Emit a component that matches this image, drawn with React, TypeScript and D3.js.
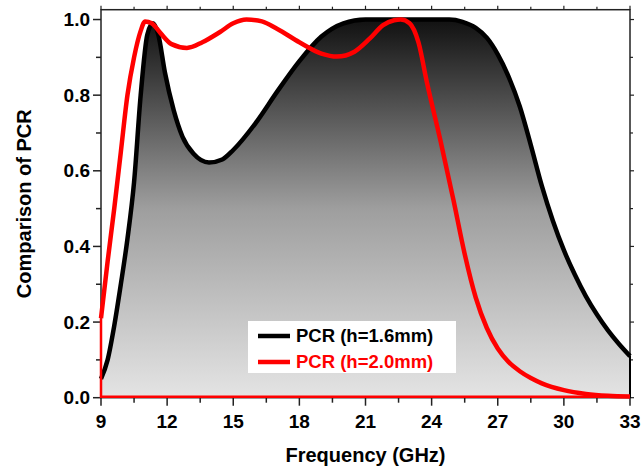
import React from "react";
import * as d3 from "d3";

const freq16 = [9, 9.3, 9.6, 9.9, 10.2, 10.5, 10.8, 11.1, 11.35, 11.6, 11.9, 12.3, 12.7, 13.2, 13.9, 14.5, 15, 16, 17, 18, 19, 20, 21, 22, 23, 24, 24.8, 25.4, 26, 26.5, 27, 27.5, 28, 28.5, 29, 29.5, 30, 30.5, 31, 31.5, 32, 32.5, 33];
const pcr16 = [0.05, 0.1, 0.19, 0.3, 0.42, 0.57, 0.8, 0.96, 0.99, 0.96, 0.86, 0.76, 0.69, 0.645, 0.622, 0.63, 0.655, 0.725, 0.81, 0.89, 0.955, 0.99, 1.0, 1.0, 1.0, 1.0, 1.0, 0.994, 0.978, 0.952, 0.908, 0.848, 0.77, 0.668, 0.56, 0.468, 0.39, 0.325, 0.268, 0.22, 0.178, 0.142, 0.11];

const freq20 = [9, 9.3, 9.6, 9.9, 10.2, 10.5, 10.8, 11.0, 11.3, 11.7, 12.2, 12.9, 13.6, 14.4, 15, 15.6, 16.3, 17, 18, 19, 19.7, 20.5, 21.2, 21.8, 22.3, 22.6, 23, 23.4, 23.8, 24.4, 25, 25.5, 26, 26.5, 27, 27.5, 28, 28.5, 29, 30, 31, 32, 33];
const pcr20 = [0.21, 0.36, 0.5, 0.65, 0.8, 0.9, 0.97, 0.995, 0.99, 0.964, 0.935, 0.925, 0.94, 0.967, 0.99, 1.0, 0.995, 0.975, 0.94, 0.91, 0.902, 0.915, 0.95, 0.985, 0.998, 1.0, 0.99, 0.94, 0.83, 0.68, 0.52, 0.38, 0.265, 0.185, 0.13, 0.094, 0.07, 0.052, 0.038, 0.02, 0.01, 0.005, 0.003];

const xTicks = [9, 12, 15, 18, 21, 24, 27, 30, 33];
const xMinor = [10.5, 13.5, 16.5, 19.5, 22.5, 25.5, 28.5, 31.5];
const yTicks = [0, 0.2, 0.4, 0.6, 0.8, 1.0];
const yMinor = [0.1, 0.3, 0.5, 0.7, 0.9];
const legendLabels = ["PCR (h=1.6mm)", "PCR (h=2.0mm)"];
const seriesColors = ["#000000", "#ff0000"];

const W = 641, H = 470;
const L = 101, R = 630, T = 9.7, B = 397.7;
const FONT = "Arial, 'Liberation Sans', sans-serif";

export default function App() {
  const x = d3.scaleLinear().domain([9, 33]).range([L, R]);
  const y = d3.scaleLinear().domain([0, 1.026]).range([B, T]);
  const d16 = freq16.map((f, i) => [f, pcr16[i]] as [number, number]);
  const d20 = freq20.map((f, i) => [f, pcr20[i]] as [number, number]);
  const line = d3.line<[number, number]>().x(d => x(d[0])).y(d => y(d[1])).curve(d3.curveMonotoneX);
  const area = d3.area<[number, number]>().x(d => x(d[0])).y0(y(0)).y1(d => y(d[1])).curve(d3.curveMonotoneX);

  return (
    <svg width={W} height={H} style={{ position: "absolute", left: 0, top: 0 }}>
      <defs>
        <linearGradient id="g" gradientUnits="userSpaceOnUse" x1={0} x2={0} y1={y(1)} y2={y(0)}>
          <stop offset="0" stopColor="#111" />
          <stop offset="0.5" stopColor="#9e9e9e" />
          <stop offset="1" stopColor="#e4e4e4" />
        </linearGradient>
      </defs>
      <rect x={0} y={0} width={W} height={H} fill="#fff" />
      <path d={area(d16) || ""} fill="url(#g)" />
      {/* frame */}
      <rect x={L} y={T} width={R - L} height={B - T} fill="none" stroke="#222" strokeWidth={1.5} />
      {xTicks.map(t => (
        <g key={"xt" + t}>
          <line x1={x(t)} x2={x(t)} y1={B} y2={B + 8} stroke="#222" strokeWidth={1.5} />
          <line x1={x(t)} x2={x(t)} y1={T} y2={T - 4} stroke="#222" strokeWidth={1.2} />
          <text x={x(t)} y={428} textAnchor="middle" fontFamily={FONT} fontWeight="bold" fontSize={19}>{t}</text>
        </g>
      ))}
      {xMinor.map(t => (
        <g key={"xm" + t}>
          <line x1={x(t)} x2={x(t)} y1={B} y2={B + 5} stroke="#222" strokeWidth={1.5} />
          <line x1={x(t)} x2={x(t)} y1={T} y2={T - 3} stroke="#222" strokeWidth={1.2} />
        </g>
      ))}
      {yTicks.map(t => (
        <g key={"yt" + t}>
          <line x1={L} x2={L - 8} y1={y(t)} y2={y(t)} stroke="#222" strokeWidth={1.5} />
          <line x1={R} x2={R + 4} y1={y(t)} y2={y(t)} stroke="#222" strokeWidth={1.2} />
          <text x={90} y={y(t)} dy="0.35em" textAnchor="end" fontFamily={FONT} fontWeight="bold" fontSize={19}>{t.toFixed(1)}</text>
        </g>
      ))}
      {yMinor.map(t => (
        <g key={"ym" + t}>
          <line x1={L} x2={L - 5} y1={y(t)} y2={y(t)} stroke="#222" strokeWidth={1.5} />
          <line x1={R} x2={R + 3} y1={y(t)} y2={y(t)} stroke="#222" strokeWidth={1.2} />
        </g>
      ))}
      {/* series */}
      <path d={line(d16) || ""} fill="none" stroke={seriesColors[0]} strokeWidth={4.5} strokeLinejoin="round" />
      <polyline points={`${x(33)},${y(pcr16[pcr16.length - 1])} ${x(33)},${y(0)}`} fill="none" stroke="#000" strokeWidth={2} />
      <polyline points={`${x(9)},${y(pcr20[0])} ${x(9)},${y(0) - 1} ${x(33)},${y(0) - 1}`} fill="none" stroke={seriesColors[1]} strokeWidth={2.5} />
      <path d={line(d20) || ""} fill="none" stroke={seriesColors[1]} strokeWidth={4.5} strokeLinejoin="round" />
      {/* legend */}
      <rect x={248} y={321} width={208} height={52} fill="#fff" />
      {legendLabels.map((lab, i) => (
        <g key={lab}>
          <line x1={258} x2={290} y1={336 + i * 26} y2={336 + i * 26} stroke={seriesColors[i]} strokeWidth={4.5} />
          <text x={296} y={336 + i * 26} dy="0.35em" fontFamily={FONT} fontWeight="bold" fontSize={18.5} fill={seriesColors[i]}>{lab}</text>
        </g>
      ))}
      {/* axis titles */}
      <text x={(L + R) / 2} y={462} textAnchor="middle" fontFamily={FONT} fontWeight="bold" fontSize={20}>Frequency (GHz)</text>
      <text transform={`translate(31,${(T + B) / 2}) rotate(-90)`} textAnchor="middle" fontFamily={FONT} fontWeight="bold" fontSize={20}>Comparison of PCR</text>
    </svg>
  );
}
